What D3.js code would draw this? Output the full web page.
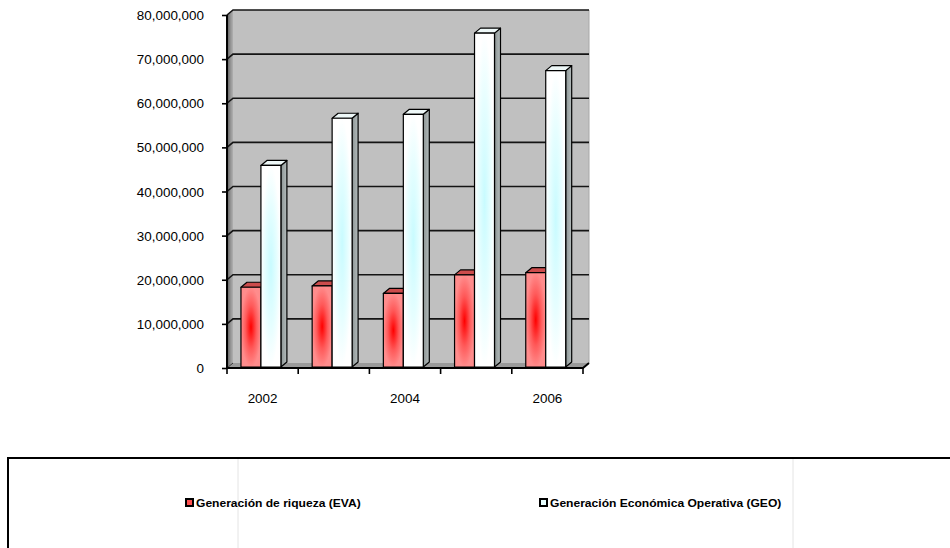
<!DOCTYPE html>
<html>
<head>
<meta charset="utf-8">
<script src="https://cdn.jsdelivr.net/npm/d3@7"></script>
<style>
  html, body { margin: 0; padding: 0; background: #fff; }
  svg { display: block; }
  text { font-family: "Liberation Sans", Arial, sans-serif; fill: #000; }
</style>
</head>
<body>
<svg id="chart" width="950" height="548"></svg>
<script>
// Yearly figures
const years = ["2002", "2003", "2004", "2005", "2006"];
const evaValues = [18300000, 18600000, 16900000, 21100000, 21600000];
const geoValues = [45900000, 56600000, 57500000, 75900000, 67400000];
const seriesNames = ["Generación de riqueza (EVA)", "Generación Económica Operativa (GEO)"];
const yTickValues = [0, 10000000, 20000000, 30000000, 40000000, 50000000, 60000000, 70000000, 80000000];
const xTickLabels = ["2002", "2004", "2006"];

(function () {
const svg = d3.select("#chart");
const W = 950, H = 548;
svg.append("rect").attr("width", W).attr("height", H).attr("fill", "#fff");

// Plot frame (front plane) and 3D depth offset
const pLeft = 227, pRight = 583, pTop = 15, pBottom = 368;
const DX = 6, DY = -5;

const y = d3.scaleLinear().domain([0, 80000000]).range([pBottom, pTop]);
const x = d3.scaleBand().domain(years).range([pLeft, pRight]).paddingInner(0).paddingOuter(0);
const xs = d3.scaleBand().domain([0, 1]).range([0.196, 0.757]); // fraction of band occupied by the pair

const defs = svg.append("defs");

// gradients
const wallGrad = defs.append("linearGradient").attr("id", "leftWall").attr("x1", 0).attr("x2", 1).attr("y1", 0).attr("y2", 0);
wallGrad.append("stop").attr("offset", "0%").attr("stop-color", "#5a5a5a");
wallGrad.append("stop").attr("offset", "50%").attr("stop-color", "#8c8c8c");
wallGrad.append("stop").attr("offset", "100%").attr("stop-color", "#b0b0b0");

const redGrad = defs.append("radialGradient").attr("id", "redFront").attr("cx", "50%").attr("cy", "50%").attr("r", "50%");
redGrad.append("stop").attr("offset", "0%").attr("stop-color", "#ff0000");
redGrad.append("stop").attr("offset", "55%").attr("stop-color", "#ff5a5a");
redGrad.append("stop").attr("offset", "100%").attr("stop-color", "#ff8c8c");

const cyanGrad = defs.append("radialGradient").attr("id", "cyanFront").attr("cx", "50%").attr("cy", "50%").attr("r", "50%");
cyanGrad.append("stop").attr("offset", "0%").attr("stop-color", "#c8fbff");
cyanGrad.append("stop").attr("offset", "60%").attr("stop-color", "#e6feff");
cyanGrad.append("stop").attr("offset", "100%").attr("stop-color", "#ffffff");

const sideGrad = defs.append("linearGradient").attr("id", "graySide").attr("x1", 0).attr("x2", 1).attr("y1", 0).attr("y2", 0);
sideGrad.append("stop").attr("offset", "0%").attr("stop-color", "#8c9494");
sideGrad.append("stop").attr("offset", "100%").attr("stop-color", "#b4bcbc");

const pts = a => a.map(p => p.join(",")).join(" ");

// Back wall
svg.append("rect")
  .attr("x", pLeft + DX).attr("y", pTop + DY)
  .attr("width", pRight - pLeft).attr("height", pBottom - pTop)
  .attr("fill", "#c0c0c0");
svg.append("line")
  .attr("x1", pRight + DX).attr("x2", pRight + DX)
  .attr("y1", pTop + DY).attr("y2", pBottom + DY)
  .attr("stroke", "#a8a8a8").attr("stroke-width", 1);

// Side wall
svg.append("polygon")
  .attr("points", pts([[pLeft, pTop], [pLeft + DX, pTop + DY], [pLeft + DX, pBottom + DY], [pLeft, pBottom]]))
  .attr("fill", "url(#leftWall)");

// Floor
svg.append("polygon")
  .attr("points", pts([[pLeft, pBottom], [pLeft + DX, pBottom + DY], [pRight + DX, pBottom + DY], [pRight, pBottom]]))
  .attr("fill", "#9a9a9a");

// Gridlines on side wall and back wall
const grid = svg.append("g");
yTickValues.filter(v => v > 0).forEach(v => {
  const yy = y(v);
  grid.append("polyline")
    .attr("points", pts([[pLeft, yy], [pLeft + DX, yy + DY], [pRight + DX, yy + DY]]))
    .attr("fill", "none").attr("stroke", "#141414").attr("stroke-width", 1.6);
});
svg.append("polyline")
  .attr("points", pts([[pLeft, pBottom], [pLeft + DX, pBottom + DY]]))
  .attr("fill", "none").attr("stroke", "#333").attr("stroke-width", 1);

// Bars
const bars = svg.append("g");
const seriesDefs = [
  { values: evaValues, front: "url(#redFront)", topFill: "#cc4c4c", side: "#a83232" },
  { values: geoValues, front: "url(#cyanFront)", topFill: "#eef8f8", side: "url(#graySide)" }
];
const BDX = 6, BDY = -5;
years.forEach((yr, i) => {
  const bw = x.bandwidth();
  seriesDefs.forEach((s, k) => {
    const x0 = x(yr) + xs(k) * bw;
    const w = xs.bandwidth() * bw;
    const yv = y(s.values[i]);
    const y0 = y(0) - 1;
    const g = bars.append("g").attr("stroke", "#000").attr("stroke-width", 1.2).attr("stroke-linejoin", "round");
    g.append("polygon")
      .attr("points", pts([[x0 + w, yv], [x0 + w + BDX, yv + BDY], [x0 + w + BDX, y0 + BDY], [x0 + w, y0]]))
      .attr("fill", s.side);
    g.append("polygon")
      .attr("points", pts([[x0, yv], [x0 + BDX, yv + BDY], [x0 + w + BDX, yv + BDY], [x0 + w, yv]]))
      .attr("fill", s.topFill);
    g.append("rect")
      .attr("x", x0).attr("y", yv).attr("width", w).attr("height", y0 - yv)
      .attr("fill", s.front);
  });
});

// Y axis
const yAxis = d3.axisLeft(y).tickValues(yTickValues).tickFormat(d3.format(",")).tickSize(5).tickPadding(0);
const gy = svg.append("g").attr("transform", `translate(${pLeft},0)`).call(yAxis);
gy.select(".domain").attr("stroke", "#000").attr("stroke-width", 2).attr("d", `M0,${pTop}V${pBottom}`);
gy.selectAll(".tick line").attr("stroke", "#000").attr("stroke-width", 1.6);
gy.selectAll(".tick text")
  .attr("font-size", 12).attr("font-family", "Liberation Sans, Arial, sans-serif")
  .attr("x", null).attr("dy", null)
  .attr("text-anchor", "end")
  .attr("transform", "translate(-23,4.5) scale(1.12,1)");

// X axis
const xAxis = d3.axisBottom(x).tickSize(0).tickFormat(d => xTickLabels.includes(d) ? d : "");
const gx = svg.append("g").attr("transform", `translate(0,${pBottom})`).call(xAxis);
gx.select(".domain").remove();
gx.selectAll(".tick text")
  .attr("font-size", 12).attr("font-family", "Liberation Sans, Arial, sans-serif")
  .attr("y", null).attr("dy", null)
  .attr("text-anchor", "middle")
  .attr("transform", "translate(0,34.5) scale(1.12,1)");
svg.append("polyline")
  .attr("points", pts([[pLeft, pBottom], [pRight, pBottom], [pRight + DX, pBottom + DY]]))
  .attr("fill", "none").attr("stroke", "#000").attr("stroke-width", 2);
svg.append("g").selectAll("line")
  .data(years.map(d => x(d)).concat([pRight]))
  .join("line")
  .attr("x1", d => d).attr("x2", d => d)
  .attr("y1", pBottom).attr("y2", pBottom + 6)
  .attr("stroke", "#000").attr("stroke-width", 1.6);

// Legend
const lg = svg.append("g");
lg.append("rect")
  .attr("x", 8).attr("y", 458).attr("width", 960).attr("height", 120)
  .attr("fill", "#fff").attr("stroke", "#000").attr("stroke-width", 2);
[238, 793].forEach(xx => lg.append("line")
  .attr("x1", xx).attr("x2", xx).attr("y1", 459).attr("y2", 548)
  .attr("stroke", "#e4e4e4").attr("stroke-width", 1));
const legendItems = [
  { name: seriesNames[0], x: 185, fill: "#ff5050" },
  { name: seriesNames[1], x: 539, fill: "#e8ffff" }
];
legendItems.forEach(it => {
  lg.append("rect")
    .attr("x", it.x + 1).attr("y", 499).attr("width", 7).attr("height", 7)
    .attr("fill", it.fill).attr("stroke", "#000").attr("stroke-width", 2);
  lg.append("text")
    .attr("transform", `translate(${it.x + 11},507) scale(1.05,1)`)
    .attr("font-size", 11.5).attr("font-weight", "bold")
    .text(it.name);
});
})();
</script>
</body>
</html>
